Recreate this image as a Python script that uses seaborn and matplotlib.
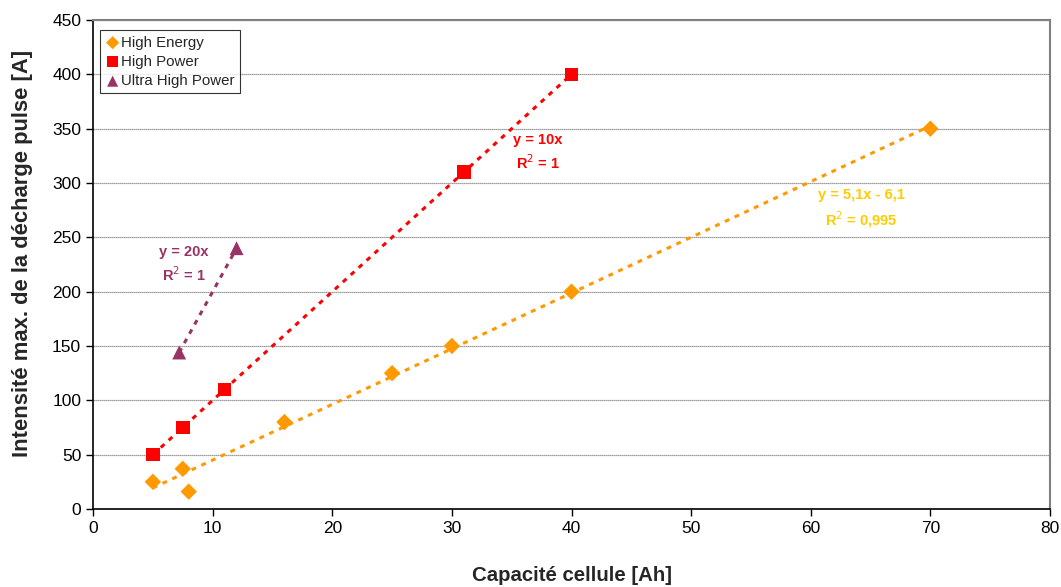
import numpy as np
import pandas as pd
import matplotlib
matplotlib.use("Agg")
import matplotlib.pyplot as plt
import seaborn as sns

# data
he_x = [5, 7.5, 8, 16, 25, 30, 40, 70]
he_y = [25, 37, 16, 80, 125, 150, 200, 350]
hp_x = [5, 7.5, 11, 31, 40]
hp_y = [50, 75, 110, 310, 400]
uhp_x = [7.2, 12]
uhp_y = [144, 240]

series_names = ["High Energy", "High Power", "Ultra High Power"]
colors = {"High Energy": "#FF9900", "High Power": "#FF0000", "Ultra High Power": "#993366"}
markers = {"High Energy": "D", "High Power": "s", "Ultra High Power": "^"}
sizes = {"High Energy": 70, "High Power": 95, "Ultra High Power": 100}

df = pd.concat([
    pd.DataFrame({"x": he_x, "y": he_y, "serie": "High Energy"}),
    pd.DataFrame({"x": hp_x, "y": hp_y, "serie": "High Power"}),
    pd.DataFrame({"x": uhp_x, "y": uhp_y, "serie": "Ultra High Power"}),
], ignore_index=True)

sns.set_style("white")
plt.rcParams['font.family'] = ['Liberation Sans', 'DejaVu Sans']

fig = plt.figure(figsize=(10.61, 5.87), dpi=100)
ax = fig.add_axes([0.0877, 0.1329, 0.9019, 0.833])

# trend lines (least squares fits, drawn first so markers sit on top)
fits = {
    "High Energy": (he_x, he_y, False, "#FF9900"),
    "High Power": (hp_x, hp_y, True, "#FF0000"),
    "Ultra High Power": (uhp_x, uhp_y, True, "#993366"),
}
for name, (xs, ys, origin, c) in fits.items():
    xs = np.array(xs, dtype=float)
    ys = np.array(ys, dtype=float)
    if origin:
        a = (xs * ys).sum() / (xs * xs).sum()
        b = 0.0
    else:
        a, b = np.polyfit(xs, ys, 1)
    xx = np.array([xs.min(), xs.max()])
    ax.plot(xx, a * xx + b, color=c, lw=2.2, dashes=(1.6, 1.9), zorder=2)

for name in series_names:
    sub = df[df["serie"] == name]
    sns.scatterplot(data=sub, x="x", y="y", ax=ax, color=colors[name],
                    marker=markers[name], s=sizes[name], edgecolor="none",
                    label=name, zorder=3)

ax.set_xlim(0, 80)
ax.set_ylim(0, 450)
ax.set_xticks(range(0, 81, 10))
ax.set_yticks(range(0, 451, 50))
ax.tick_params(axis="both", direction="out", length=5, width=1, labelsize=12.5,
               colors="black", bottom=True, left=True)
ax.yaxis.grid(True, color="#808080", lw=0.9, ls=(0, (1, 0.6)))
ax.set_axisbelow(True)

for s in ["left", "bottom"]:
    ax.spines[s].set_color("black")
    ax.spines[s].set_linewidth(1.2)
for s in ["top", "right"]:
    ax.spines[s].set_color("#808080")
    ax.spines[s].set_linewidth(1.5)

ax.set_xlabel("Capacité cellule [Ah]", fontsize=14.7, fontweight="bold", labelpad=22)
ax.set_ylabel("Intensité max. de la décharge pulse [A]", fontsize=15.8,
              fontweight="bold", labelpad=14)
ax.yaxis.label.set_y(0.522)

# equations
ax.text(37.2, 328, "y = 10x\nR$^2$ = 1", color="#FF0000", fontsize=10.5,
        fontweight="bold", ha="center", va="center", linespacing=1.45)
ax.text(7.6, 225, "y = 20x\nR$^2$ = 1", color="#993366", fontsize=10.5,
        fontweight="bold", ha="center", va="center", linespacing=1.45)
ax.text(64.2, 276, "y = 5,1x - 6,1\nR$^2$ = 0,995", color="#FFCC00", fontsize=10.5,
        fontweight="bold", ha="center", va="center", linespacing=1.45)

leg = ax.legend(loc="upper left", bbox_to_anchor=(0.004, 0.985), fontsize=10.8,
                frameon=True, fancybox=False, handletextpad=0.05, handlelength=1.0,
                borderpad=0.35, labelspacing=0.35, borderaxespad=0.2,
                markerscale=0.8)
leg.get_frame().set_edgecolor("black")
leg.get_frame().set_linewidth(0.8)

fig.savefig("out.png", dpi=100)
